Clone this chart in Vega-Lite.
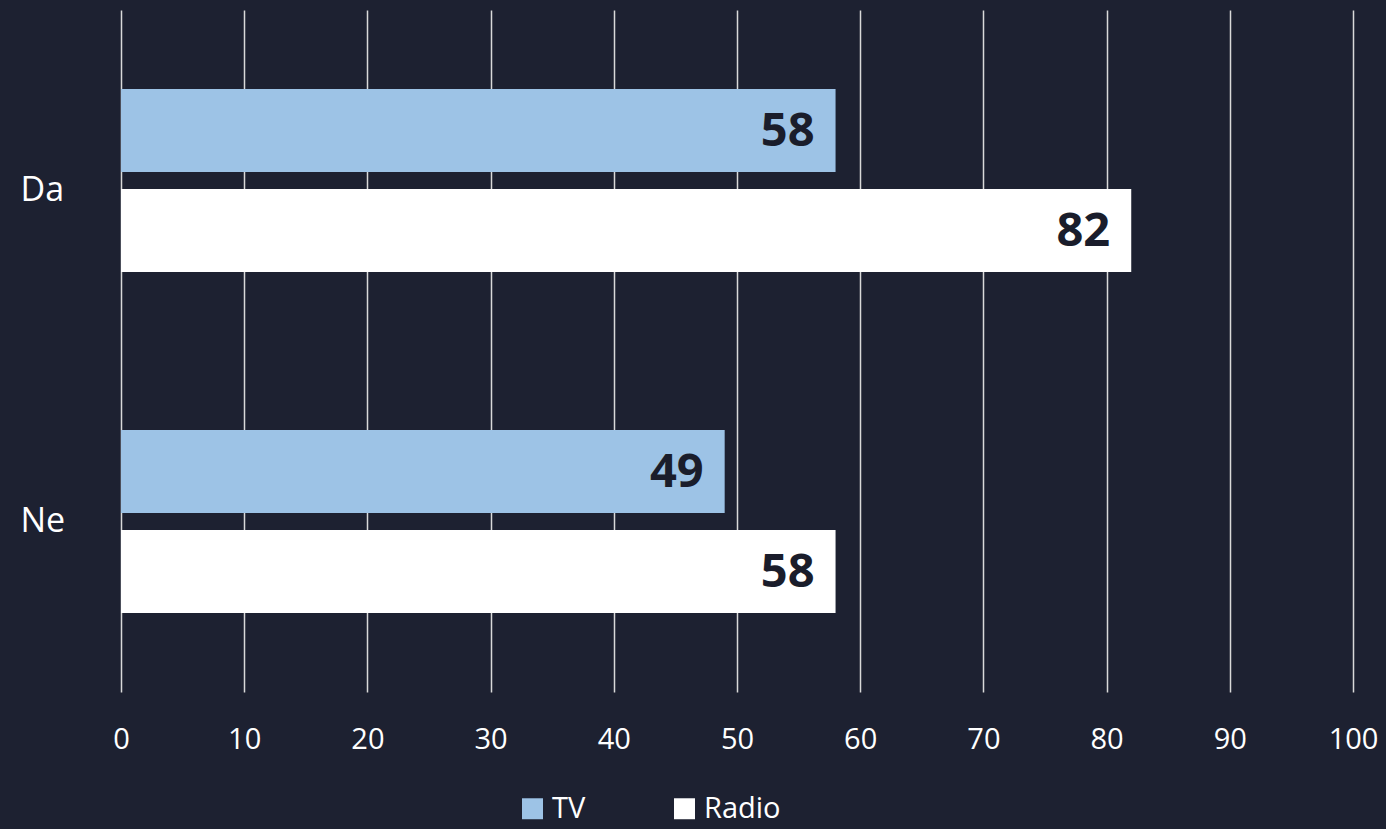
{
  "$schema": "https://vega.github.io/schema/vega-lite/v6.json",
  "autosize": {"type": "none"},
  "width": 1232,
  "height": 682,
  "padding": {"left": 121, "top": 10, "right": 33, "bottom": 137},
  "background": "#1d2131",
  "config": {
    "view": {"stroke": null},
    "font": "Open Sans"
  },
  "data": {
    "values": [
      {"cat": "Da", "series": "TV", "value": 58},
      {"cat": "Da", "series": "Radio", "value": 82},
      {"cat": "Ne", "series": "TV", "value": 49},
      {"cat": "Ne", "series": "Radio", "value": 58}
    ]
  },
  "encoding": {
    "y": {
      "field": "cat", "type": "nominal", "sort": ["Da", "Ne"],
      "scale": {"paddingInner": 0, "paddingOuter": 0},
      "axis": {"title": null, "ticks": false, "domain": false, "grid": false, "labelAlign": "left", "labelPadding": 101, "labelFontSize": 34, "labelColor": "#ffffff", "labelFont": "Open Sans",
        "labelOffset": {"condition": {"test": "datum.value == 'Da'", "value": 10}, "value": 0}}
    },
    "yOffset": {
      "field": "series", "type": "nominal", "sort": ["TV", "Radio"],
      "scale": {"paddingInner": 0.17, "paddingOuter": 0.79}
    },
    "x": {
      "field": "value", "type": "quantitative",
      "scale": {"domain": [0, 100], "nice": false},
      "axis": {"title": null, "values": [0,10,20,30,40,50,60,70,80,90,100], "ticks": false, "domain": false, "grid": true, "gridColor": "#d9d9d9", "gridWidth": 1.5, "labelFontSize": 29, "labelColor": "#ffffff", "labelPadding": 33, "labelFont": "Open Sans", "labelFlush": false, "labelOverlap": false}
    }
  },
  "layer": [
    {
      "mark": {"type": "bar"},
      "encoding": {
        "color": {
          "field": "series", "type": "nominal",
          "scale": {"domain": ["TV", "Radio"], "range": ["#9dc3e6", "#ffffff"]},
          "legend": {"title": null, "orient": "none", "legendX": 397, "legendY": 784, "direction": "horizontal", "symbolType": "square", "symbolSize": 440, "symbolStrokeWidth": 0, "symbolOpacity": 1, "labelFontSize": 29, "labelColor": "#ffffff", "labelFont": "Open Sans", "columnPadding": 84, "labelOffset": 5}
        }
      }
    },
    {
      "mark": {"type": "text", "align": "right", "baseline": "middle", "dx": -21, "dy": 1, "fontSize": 47, "fontWeight": "bold", "color": "#1a1d2b", "font": "Open Sans"},
      "encoding": {"text": {"field": "value", "type": "quantitative"}}
    }
  ]
}
